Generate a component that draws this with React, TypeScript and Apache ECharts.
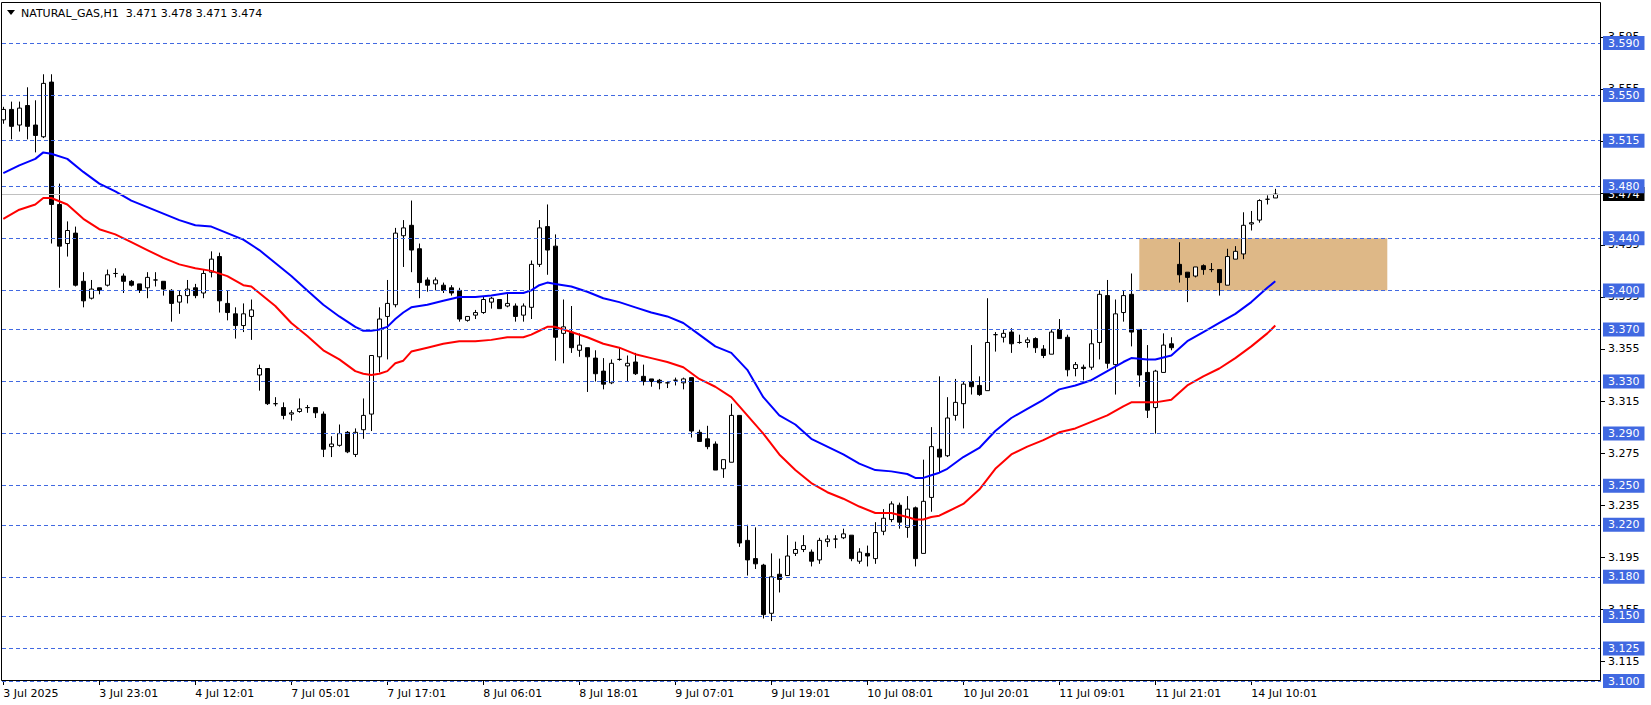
import React, { useEffect, useRef } from "react";
import * as echarts from "echarts";

// ---- data ----
const titleText = "NATURAL_GAS,H1  3.471 3.478 3.471 3.474";

const timeLabels = [
  "3 Jul 2025", "3 Jul 23:01", "4 Jul 12:01", "7 Jul 05:01", "7 Jul 17:01",
  "8 Jul 06:01", "8 Jul 18:01", "9 Jul 07:01", "9 Jul 19:01", "10 Jul 08:01",
  "10 Jul 20:01", "11 Jul 09:01", "11 Jul 21:01", "14 Jul 10:01",
];
const timeLabelIndex = [0, 12, 24, 36, 48, 60, 72, 84, 96, 108, 120, 132, 144, 156];

const openP = [
  3.531, 3.539, 3.527, 3.542, 3.527, 3.518, 3.560, 3.466, 3.436, 3.444,
  3.407, 3.394, 3.402, 3.404, 3.413, 3.411, 3.407, 3.405, 3.402, 3.408,
  3.407, 3.400, 3.391, 3.396, 3.402, 3.398, 3.414, 3.426, 3.390, 3.382,
  3.373, 3.380, 3.335, 3.340, 3.313, 3.310, 3.305, 3.307, 3.310, 3.310,
  3.305, 3.280, 3.281, 3.291, 3.274, 3.293, 3.305, 3.349, 3.380, 3.389,
  3.442, 3.450, 3.432, 3.408, 3.405, 3.404, 3.402, 3.400, 3.377, 3.381,
  3.383, 3.391, 3.393, 3.388, 3.388, 3.381, 3.387, 3.420, 3.449, 3.434,
  3.367, 3.368, 3.354, 3.356, 3.348, 3.338, 3.329, 3.347, 3.342, 3.345,
  3.334, 3.332, 3.331, 3.329, 3.331, 3.329, 3.333, 3.291, 3.286, 3.282,
  3.263, 3.268, 3.304, 3.208, 3.194, 3.189, 3.152, 3.182, 3.181, 3.198,
  3.201, 3.199, 3.193, 3.207, 3.209, 3.210, 3.212, 3.192, 3.198, 3.194,
  3.215, 3.224, 3.235, 3.218, 3.233, 3.198, 3.241, 3.278, 3.273, 3.304,
  3.313, 3.330, 3.327, 3.323, 3.366, 3.364, 3.368, 3.360, 3.360, 3.363,
  3.355, 3.351, 3.370, 3.364, 3.340, 3.341, 3.341, 3.360, 3.396, 3.343,
  3.383, 3.397, 3.370, 3.337, 3.310, 3.337, 3.359, 3.420, 3.414, 3.411,
  3.419, 3.416, 3.416, 3.404, 3.424, 3.428, 3.451, 3.454, 3.470, 3.471,
];
const highP = [
  3.541, 3.545, 3.545, 3.556, 3.546, 3.566, 3.566, 3.482, 3.453, 3.449,
  3.414, 3.408, 3.402, 3.416, 3.417, 3.413, 3.408, 3.405, 3.414, 3.414,
  3.407, 3.401, 3.400, 3.408, 3.405, 3.416, 3.430, 3.429, 3.400, 3.387,
  3.390, 3.393, 3.343, 3.340, 3.318, 3.314, 3.308, 3.317, 3.312, 3.310,
  3.307, 3.288, 3.297, 3.292, 3.294, 3.317, 3.350, 3.387, 3.408, 3.448,
  3.454, 3.469, 3.436, 3.410, 3.410, 3.406, 3.404, 3.402, 3.380, 3.385,
  3.395, 3.395, 3.393, 3.398, 3.390, 3.390, 3.423, 3.454, 3.466, 3.443,
  3.393, 3.388, 3.367, 3.356, 3.354, 3.348, 3.347, 3.356, 3.350, 3.352,
  3.343, 3.332, 3.332, 3.330, 3.333, 3.333, 3.333, 3.293, 3.296, 3.284,
  3.270, 3.313, 3.304, 3.220, 3.218, 3.190, 3.198, 3.194, 3.212, 3.207,
  3.212, 3.201, 3.210, 3.212, 3.212, 3.217, 3.212, 3.202, 3.204, 3.222,
  3.232, 3.238, 3.237, 3.242, 3.234, 3.270, 3.295, 3.334, 3.318, 3.332,
  3.330, 3.358, 3.334, 3.394, 3.368, 3.370, 3.371, 3.366, 3.364, 3.364,
  3.358, 3.370, 3.378, 3.366, 3.345, 3.343, 3.370, 3.400, 3.408, 3.393,
  3.400, 3.413, 3.370, 3.358, 3.339, 3.367, 3.364, 3.437, 3.414, 3.418,
  3.420, 3.421, 3.416, 3.432, 3.434, 3.460, 3.461, 3.470, 3.473, 3.478,
];
const lowP = [
  3.528, 3.516, 3.522, 3.516, 3.506, 3.517, 3.436, 3.402, 3.426, 3.403,
  3.387, 3.393, 3.397, 3.403, 3.410, 3.398, 3.403, 3.398, 3.394, 3.403,
  3.396, 3.376, 3.382, 3.390, 3.394, 3.394, 3.410, 3.383, 3.377, 3.363,
  3.368, 3.362, 3.323, 3.312, 3.311, 3.301, 3.300, 3.306, 3.306, 3.302,
  3.272, 3.272, 3.280, 3.275, 3.272, 3.286, 3.292, 3.337, 3.347, 3.387,
  3.418, 3.414, 3.394, 3.399, 3.400, 3.398, 3.396, 3.376, 3.376, 3.378,
  3.382, 3.386, 3.386, 3.387, 3.376, 3.376, 3.378, 3.418, 3.412, 3.346,
  3.344, 3.352, 3.349, 3.322, 3.330, 3.324, 3.328, 3.346, 3.330, 3.335,
  3.327, 3.326, 3.324, 3.325, 3.327, 3.324, 3.287, 3.284, 3.278, 3.262,
  3.256, 3.268, 3.203, 3.181, 3.186, 3.148, 3.146, 3.168, 3.181, 3.196,
  3.199, 3.188, 3.190, 3.203, 3.202, 3.209, 3.192, 3.190, 3.188, 3.190,
  3.212, 3.222, 3.217, 3.210, 3.188, 3.198, 3.230, 3.260, 3.272, 3.300,
  3.294, 3.320, 3.319, 3.323, 3.353, 3.360, 3.352, 3.359, 3.356, 3.352,
  3.348, 3.351, 3.363, 3.334, 3.334, 3.331, 3.339, 3.347, 3.340, 3.320,
  3.376, 3.357, 3.326, 3.302, 3.290, 3.337, 3.354, 3.406, 3.391, 3.410,
  3.412, 3.414, 3.396, 3.404, 3.424, 3.424, 3.446, 3.452, 3.466, 3.471,
];
const closeP = [
  3.539, 3.526, 3.540, 3.526, 3.519, 3.559, 3.466, 3.434, 3.446, 3.404,
  3.392, 3.401, 3.400, 3.412, 3.413, 3.407, 3.404, 3.400, 3.410, 3.408,
  3.401, 3.390, 3.396, 3.401, 3.396, 3.413, 3.424, 3.392, 3.383, 3.373,
  3.382, 3.385, 3.340, 3.313, 3.313, 3.304, 3.306, 3.309, 3.310, 3.306,
  3.278, 3.282, 3.290, 3.276, 3.291, 3.304, 3.350, 3.378, 3.390, 3.444,
  3.448, 3.431, 3.406, 3.404, 3.408, 3.400, 3.398, 3.378, 3.380, 3.383,
  3.393, 3.394, 3.386, 3.390, 3.380, 3.388, 3.420, 3.448, 3.431, 3.364,
  3.372, 3.356, 3.358, 3.349, 3.336, 3.328, 3.344, 3.347, 3.344, 3.336,
  3.330, 3.330, 3.329, 3.329, 3.331, 3.332, 3.292, 3.284, 3.280, 3.262,
  3.270, 3.304, 3.206, 3.193, 3.190, 3.151, 3.180, 3.178, 3.196, 3.201,
  3.204, 3.192, 3.208, 3.209, 3.209, 3.213, 3.194, 3.199, 3.196, 3.214,
  3.225, 3.236, 3.222, 3.232, 3.194, 3.238, 3.280, 3.272, 3.302, 3.314,
  3.328, 3.326, 3.320, 3.360, 3.366, 3.367, 3.359, 3.360, 3.362, 3.356,
  3.350, 3.368, 3.363, 3.339, 3.343, 3.340, 3.359, 3.397, 3.344, 3.382,
  3.396, 3.368, 3.335, 3.308, 3.338, 3.358, 3.356, 3.412, 3.410, 3.418,
  3.416, 3.416, 3.406, 3.426, 3.430, 3.450, 3.452, 3.469, 3.470, 3.474,
];

// moving-average lines: [bar index, value]
const maBlue = [
  [0, 3.490], [2, 3.496], [4, 3.501], [5, 3.506], [6, 3.505], [8, 3.501], [10, 3.491],
  [12, 3.482], [14, 3.476], [16, 3.469], [18, 3.464], [20, 3.459], [22, 3.454], [24, 3.450],
  [26, 3.449], [28, 3.444], [30, 3.439], [32, 3.431], [34, 3.421], [36, 3.411], [38, 3.400],
  [40, 3.389], [42, 3.380], [44, 3.372], [45, 3.369], [46, 3.369], [47, 3.370], [48, 3.372],
  [49, 3.378], [50, 3.383], [51, 3.387], [53, 3.389], [55, 3.392], [57, 3.395], [59, 3.395],
  [61, 3.396], [63, 3.398], [65, 3.398], [66, 3.400], [67, 3.404], [68, 3.406], [69, 3.405],
  [71, 3.403], [73, 3.399], [75, 3.394], [77, 3.391], [79, 3.387], [81, 3.383], [83, 3.380],
  [85, 3.375], [87, 3.366], [89, 3.357], [91, 3.352], [93, 3.339], [95, 3.318], [97, 3.304],
  [99, 3.297], [101, 3.286], [103, 3.280], [105, 3.274], [107, 3.267], [109, 3.262],
  [111, 3.261], [113, 3.259], [114, 3.256], [115, 3.256], [116, 3.258], [117, 3.260],
  [118, 3.263], [120, 3.272], [122, 3.279], [124, 3.292], [126, 3.302], [128, 3.309],
  [130, 3.316], [132, 3.324], [134, 3.327], [136, 3.331], [138, 3.338], [140, 3.345],
  [141, 3.348], [143, 3.347], [144, 3.347], [146, 3.350], [148, 3.361], [150, 3.368],
  [152, 3.375], [154, 3.382], [156, 3.391], [158, 3.402], [159, 3.407],
];
const maRed = [
  [0, 3.455], [2, 3.462], [4, 3.466], [5, 3.471], [6, 3.471], [8, 3.466], [10, 3.455],
  [12, 3.447], [14, 3.443], [16, 3.437], [18, 3.431], [20, 3.425], [22, 3.420], [24, 3.417],
  [26, 3.415], [28, 3.411], [30, 3.404], [31, 3.403], [32, 3.398], [34, 3.388], [36, 3.375],
  [38, 3.365], [40, 3.354], [42, 3.347], [44, 3.338], [45, 3.336], [46, 3.335], [47, 3.336],
  [48, 3.338], [49, 3.344], [50, 3.346], [51, 3.353], [53, 3.356], [55, 3.359], [57, 3.361],
  [59, 3.361], [61, 3.362], [63, 3.364], [65, 3.364], [66, 3.366], [67, 3.369], [68, 3.372],
  [69, 3.372], [71, 3.368], [73, 3.364], [75, 3.359], [77, 3.356], [79, 3.351], [81, 3.348],
  [83, 3.345], [85, 3.341], [87, 3.332], [89, 3.326], [91, 3.318], [93, 3.304], [95, 3.290],
  [97, 3.274], [99, 3.262], [101, 3.252], [103, 3.245], [105, 3.240], [107, 3.234],
  [109, 3.229], [111, 3.229], [113, 3.226], [114, 3.224], [115, 3.224], [116, 3.226],
  [117, 3.227], [118, 3.230], [120, 3.236], [122, 3.247], [124, 3.263], [126, 3.274],
  [128, 3.280], [130, 3.285], [132, 3.291], [134, 3.294], [136, 3.299], [138, 3.304],
  [140, 3.311], [141, 3.314], [143, 3.314], [144, 3.314], [146, 3.316], [148, 3.327],
  [150, 3.334], [152, 3.340], [154, 3.348], [156, 3.357], [158, 3.367], [159, 3.373],
];

const levelLines = [
  3.590, 3.550, 3.515, 3.480, 3.440, 3.400, 3.370, 3.330, 3.290, 3.250, 3.220, 3.180,
  3.150, 3.125, 3.100,
];
const priceTicks = [
  3.115, 3.155, 3.195, 3.235, 3.275, 3.315, 3.355, 3.395, 3.435, 3.475, 3.515, 3.555, 3.595,
];
const lastPrice = 3.474;
const zoneTop = 3.44;
const zoneBottom = 3.4;
const zoneStartBar = 142;
const zoneEndBar = 173;

const FONT = '"DejaVu Sans", Verdana, sans-serif';
const X_MIN = -0.1625;
const X_MAX = 199.7125;

export default function App() {
  const ref = useRef<HTMLDivElement>(null);

  useEffect(() => {
    if (!ref.current) return;
    const chart = echarts.init(ref.current, null, { renderer: "svg" });
    const candles = openP.map((o, i) => [i, o, closeP[i], lowP[i], highP[i]]);

    const blueLabel = {
      show: true,
      position: "end",
      distance: 2,
      formatter: (p: any) => p.name,
      color: "#ffffff",
      backgroundColor: "#4169E1",
      padding: [1, 5, 1, 5],
      fontSize: 11,
      lineHeight: 12,
      fontFamily: FONT,
    };

    const option: any = {
      animation: false,
      backgroundColor: "#ffffff",
      grid: { left: 2, right: 50, top: 2, bottom: 24 },
      xAxis: {
        type: "value",
        min: X_MIN,
        max: X_MAX,
        axisLine: { show: false },
        splitLine: { show: false },
        axisTick: {
          show: true,
          length: 4,
          lineStyle: { color: "#000" },
          customValues: timeLabelIndex,
        },
        axisLabel: {
          customValues: timeLabelIndex,
          formatter: (v: number) => {
            const k = timeLabelIndex.indexOf(Math.round(v));
            return k >= 0 ? timeLabels[k] : "";
          },
          align: "left",
          margin: 7,
          color: "#000",
          fontSize: 11,
          fontFamily: FONT,
        },
      },
      yAxis: {
        type: "value",
        position: "right",
        min: 3.1,
        max: 3.1 + 679 / 1302,
        axisLine: { show: false },
        splitLine: { show: false },
        axisTick: { show: false },
        axisLabel: {
          customValues: priceTicks,
          formatter: (v: number) => v.toFixed(3),
          margin: 7,
          color: "#000",
          fontSize: 11,
          fontFamily: FONT,
        },
      },
      series: [
        {
          type: "candlestick",
          data: candles,
          encode: { x: 0, y: [1, 2, 3, 4] },
          barWidth: 4,
          z: 2,
          itemStyle: {
            color: "#ffffff",
            color0: "#000000",
            borderColor: "#000000",
            borderColor0: "#000000",
            borderColorDoji: "#000000",
            borderWidth: 1,
          },
          markArea: {
            silent: true,
            itemStyle: { color: "#DEB887", opacity: 1 },
            data: [
              [
                { xAxis: zoneStartBar, yAxis: zoneTop },
                { xAxis: zoneEndBar, yAxis: zoneBottom },
              ],
            ],
          },
          markLine: {
            silent: true,
            precision: 3,
            symbol: ["none", "none"],
            lineStyle: { color: "#4169E1", type: [4, 3], width: 1 },
            label: blueLabel,
            data: [
              {
                name: lastPrice.toFixed(3),
                yAxis: lastPrice,
                lineStyle: { color: "#C0C0C0", type: "solid", width: 1 },
                label: { ...blueLabel, backgroundColor: "#000000" },
              },
              ...levelLines.map((v) => ({ name: v.toFixed(3), yAxis: v })),
            ],
          },
        },
        {
          type: "line",
          data: maBlue,
          showSymbol: false,
          symbol: "none",
          z: 3,
          lineStyle: { color: "#0000FF", width: 2 },
        },
        {
          type: "line",
          data: maRed,
          showSymbol: false,
          symbol: "none",
          z: 3,
          lineStyle: { color: "#FF0000", width: 2 },
        },
        {
          // price-axis tick marks, placed through the y scale
          type: "custom",
          silent: true,
          clip: false,
          z: 1,
          data: priceTicks.map((v) => [X_MAX, v]),
          encode: { x: 0, y: 1 },
          renderItem: (params: any, api: any) => {
            const pt = api.coord([api.value(0), api.value(1)]);
            const y = Math.round(pt[1]) + 0.5;
            return {
              type: "line",
              shape: { x1: pt[0], y1: y, x2: pt[0] + 4, y2: y },
              style: { stroke: "#000", lineWidth: 1 },
            };
          },
        },
      ],
      graphic: [
        {
          type: "rect",
          silent: true,
          z: 10,
          shape: { x: 1.5, y: 2.5, width: 1599, height: 678 },
          style: { fill: "none", stroke: "#000", lineWidth: 1 },
        },
        {
          type: "polygon",
          silent: true,
          z: 10,
          shape: { points: [[7, 10], [15, 10], [11, 15]] },
          style: { fill: "#000" },
        },
        {
          type: "text",
          silent: true,
          z: 10,
          x: 21,
          y: 13,
          style: {
            text: titleText,
            fill: "#000",
            fontSize: 11,
            fontFamily: FONT,
            verticalAlign: "middle",
          },
        },
      ],
    };

    chart.setOption(option);
    return () => chart.dispose();
  }, []);

  return (
    <div
      ref={ref}
      style={{
        position: "fixed",
        left: 0,
        top: 0,
        width: 1651,
        height: 705,
        background: "#fff",
      }}
    />
  );
}
